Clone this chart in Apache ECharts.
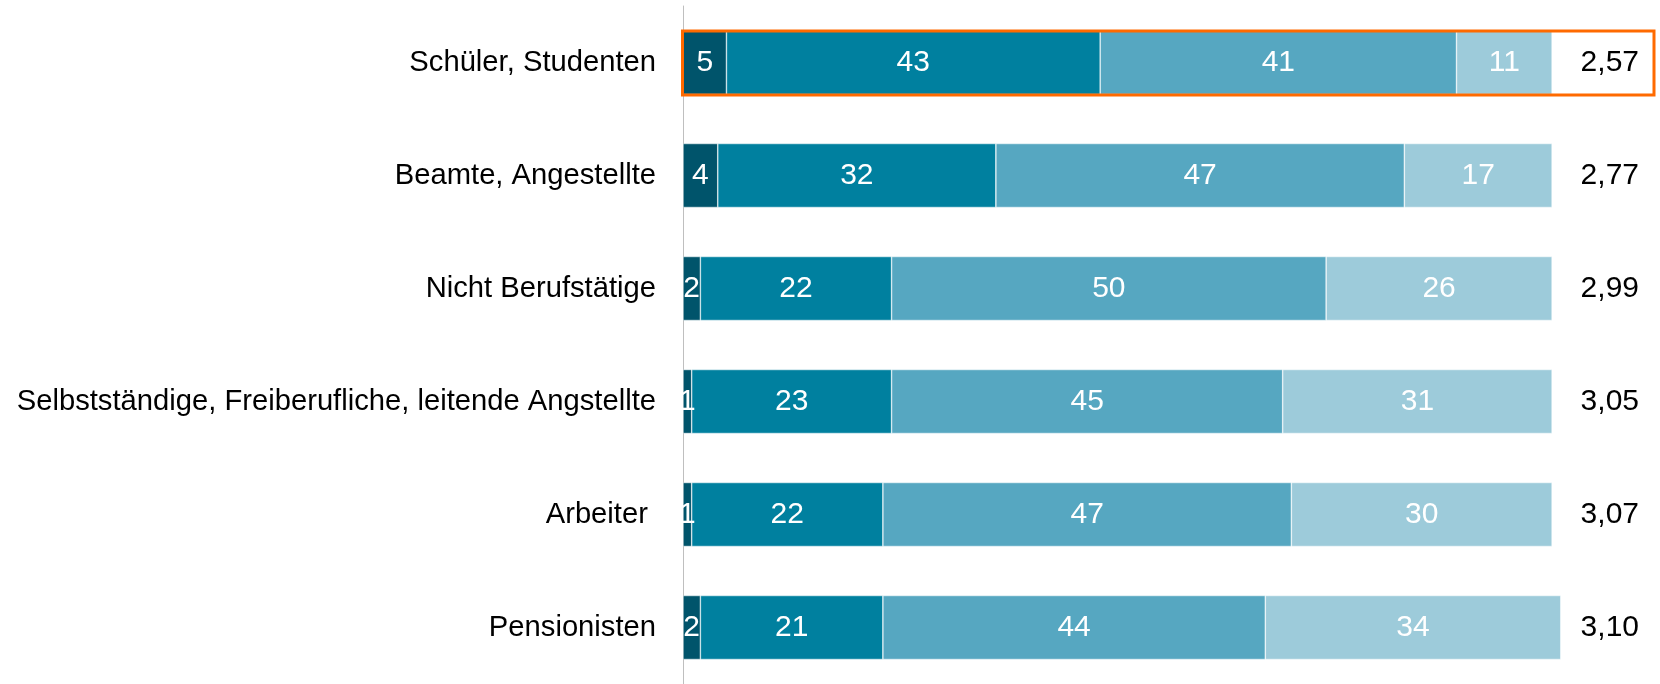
<!DOCTYPE html>
<html>
<head>
<meta charset="utf-8">
<script src="https://cdn.jsdelivr.net/npm/echarts@6/dist/echarts.min.js"></script>
<style>html,body{margin:0;padding:0;background:#fff}#c{width:1660px;height:684px}</style>
</head>
<body>
<div id="c"></div>
<script>
const categories = ['Schüler, Studenten', 'Beamte, Angestellte', 'Nicht Berufstätige', 'Selbstständige, Freiberufliche, leitende Angstellte', 'Arbeiter ', 'Pensionisten'];
const s1 = [5, 4, 2, 1, 1, 2];
const s2 = [43, 32, 22, 23, 22, 21];
const s3 = [41, 47, 50, 45, 47, 44];
const s4 = [11, 17, 26, 31, 30, 34];
const averages = ['2,57', '2,77', '2,99', '3,05', '3,07', '3,10'];
const colors = ['#00546B', '#00809F', '#56A7C1', '#9DCBDA'];

const font = 'Liberation Sans, Arial, sans-serif';
const chart = echarts.init(document.getElementById('c'), null, {renderer: 'canvas'});
function mk(data, i) {
  return {
    type: 'bar', stack: 'a', data: data, barWidth: 64,
    itemStyle: {color: colors[i], borderColor: 'rgba(255,255,255,0.8)', borderWidth: 0.6},
    label: {show: true, position: 'inside', color: '#fff', fontSize: 30, fontFamily: font, padding: [3, 0, 0, 0]},
    emphasis: {disabled: true}, animation: false
  };
}
chart.setOption({
  animation: false,
  grid: {left: 683, right: 21, top: 6, bottom: -1, containLabel: false},
  xAxis: {type: 'value', min: 0, max: 110, show: false},
  yAxis: [
    {type: 'category', data: categories, inverse: true,
      axisLine: {show: true, lineStyle: {color: '#BFBFBF', width: 1}},
      axisTick: {show: false},
      axisLabel: {color: '#000', fontSize: 29.2, fontFamily: font, margin: 27, padding: [3, 0, 0, 0]}},
    {type: 'category', data: averages, inverse: true, position: 'right',
      axisLine: {show: false}, axisTick: {show: false},
      axisLabel: {inside: true, color: '#000', fontSize: 30, fontFamily: font, margin: 0, padding: [3, 0, 0, 0]}}
  ],
  series: [mk(s1, 0), mk(s2, 1), mk(s3, 2), mk(s4, 3)]
});
const yc = chart.convertToPixel({yAxisIndex: 0}, categories[0]);
const x0 = chart.convertToPixel({xAxisIndex: 0}, 0);
chart.setOption({
  graphic: [{
    type: 'rect', z: 100,
    shape: {x: x0 - 0.5, y: yc - 32 - 0.5 + 1, width: 1655 - x0 - 0.5, height: 64},
    style: {fill: null, stroke: '#FF6A00', lineWidth: 3}
  }]
});
</script>
</body>
</html>
